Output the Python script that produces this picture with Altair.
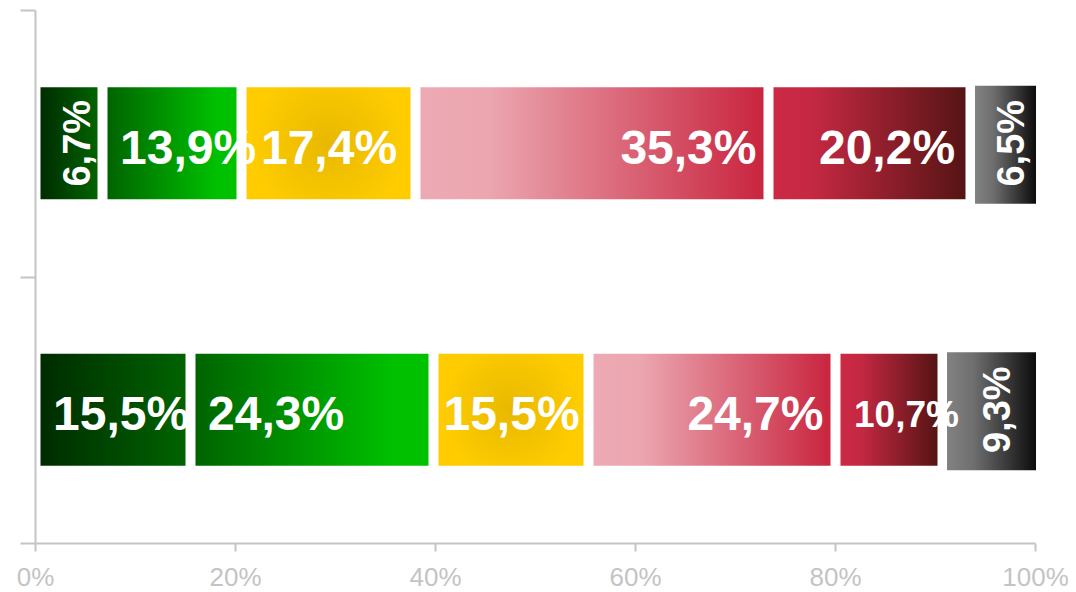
import altair as alt
import pandas as pd

rows = ["Row 1", "Row 2"]
segments = ["s1", "s2", "s3", "s4", "s5", "s6"]
values_row1 = [6.7, 13.9, 17.4, 35.3, 20.2, 6.5]
values_row2 = [15.5, 24.3, 15.5, 24.7, 10.7, 9.3]
x_ticks = [0, 20, 40, 60, 80, 100]

records = []
for r, vals in zip(rows, [values_row1, values_row2]):
    for i, (s, v) in enumerate(zip(segments, vals)):
        records.append({"row": r, "seg": s, "idx": i, "value": v,
                        "label": f"{v:.1f}".replace(".", ",") + "%"})
df = pd.DataFrame(records)


def linear(stops):
    return {"gradient": "linear", "x1": 0, "y1": 0, "x2": 1, "y2": 0,
            "stops": [{"offset": o, "color": c} for o, c in stops]}


def radial(stops):
    return {"gradient": "radial", "x1": 0.5, "y1": 0.5, "r1": 0,
            "x2": 0.5, "y2": 0.5, "r2": 0.6,
            "stops": [{"offset": o, "color": c} for o, c in stops]}


fills = {
    "s1": linear([(0, "#002C00"), (1, "#006300")]),
    "s2": linear([(0, "#006400"), (0.85, "#00C000"), (1, "#00C200")]),
    "s3": radial([(0, "#E8B800"), (0.55, "#F7C600"), (0.8, "#FFCC00"), (1, "#FFCC00")]),
    "s4": linear([(0, "#EEAAB4"), (0.2, "#EBA6B0"), (1, "#C9253F")]),
    "s5": linear([(0, "#CC2A45"), (0.2, "#C52842"), (1, "#561414")]),
    "s6": linear([(0, "#828282"), (0.3, "#6E6E6E"), (1, "#0C0C0C")]),
}

axis_gray = "#C4C4C4"
x_axis = alt.Axis(values=x_ticks, labelExpr="datum.value + '%'", grid=False,
                  domainColor=axis_gray, domainWidth=2, tickColor=axis_gray,
                  tickWidth=2, tickSize=8, labelColor="#C4C4C4", labelFontSize=26,
                  labelFont="Liberation Sans", labelPadding=13, title=None,
                  labelFlush=False, labelOverlap=False)
x_scale = alt.Scale(domain=[0, 100], nice=False)


def xf(field):
    return alt.X(f"{field}:Q", scale=x_scale, axis=x_axis)


y_enc = alt.Y("row:N", scale=alt.Scale(domain=rows, paddingInner=0, paddingOuter=0),
              axis=alt.Axis(labels=False, title=None, tickBand="extent", tickSize=15,
                            tickColor=axis_gray, tickWidth=2, domainColor=axis_gray,
                            domainWidth=2, grid=False))

base = alt.Chart(df).transform_stack(
    stack="value", groupby=["row"], as_=["x0", "x1"], sort=[alt.SortField("idx")]
).transform_calculate(mid="(datum.x0 + datum.x1) / 2")

layers = []
for s in segments:
    if s == "s6":
        mark = base.mark_bar(size=118, yOffset=1.5, xOffset=5, x2Offset=1, color=fills[s])
    else:
        mark = base.mark_bar(size=112, xOffset=5.5, x2Offset=-4.5, color=fills[s])
    layers.append(mark.encode(x=xf("x0"), x2="x1:Q", y=y_enc)
                  .transform_filter(alt.datum.seg == s))

txt = dict(font="Liberation Sans", fontWeight="bold", color="white", baseline="middle")
size_cond = alt.condition("datum.value < 12", alt.value(37), alt.value(48))

# left aligned labels
layers.append(base.mark_text(align="left", xOffset=18, yOffset=6.5, **txt).encode(
    x=xf("x0"), y=y_enc, text="label:N", size=size_cond
).transform_filter("(datum.seg == 's1' || datum.seg == 's2') && datum.value >= 10"))

# centered labels (yellow)
layers.append(base.mark_text(align="center", xOffset=1, yOffset=6.5, **txt).encode(
    x=xf("mid"), y=y_enc, text="label:N", size=size_cond
).transform_filter("datum.seg == 's3' && datum.value >= 10"))

# right aligned labels (pink)
layers.append(base.mark_text(align="right", xOffset=-11.5, yOffset=6.5, **txt).encode(
    x=xf("x1"), y=y_enc, text="label:N", size=size_cond
).transform_filter("datum.seg == 's4' && datum.value >= 10"))

# crimson labels
layers.append(base.mark_text(align="center", xOffset=18, yOffset=6.5, **txt).encode(
    x=xf("mid"), y=y_enc, text="label:N", size=size_cond
).transform_filter("datum.seg == 's5' && datum.value >= 10"))

# rotated labels
layers.append(base.mark_text(align="center", angle=270, xOffset=10, fontSize=38, **txt).encode(
    x=xf("mid"), y=y_enc, text="label:N"
).transform_filter("datum.value < 10"))

chart = alt.layer(*layers).properties(
    width=1000, height=533,
    background="white",
    autosize=alt.AutoSizeParams(type="none"),
    padding={"left": 27, "top": 2, "right": 33, "bottom": 47},
).configure_view(stroke=None, strokeWidth=0)

chart.save("out.html", embed_options={"renderer": "svg", "actions": False})
